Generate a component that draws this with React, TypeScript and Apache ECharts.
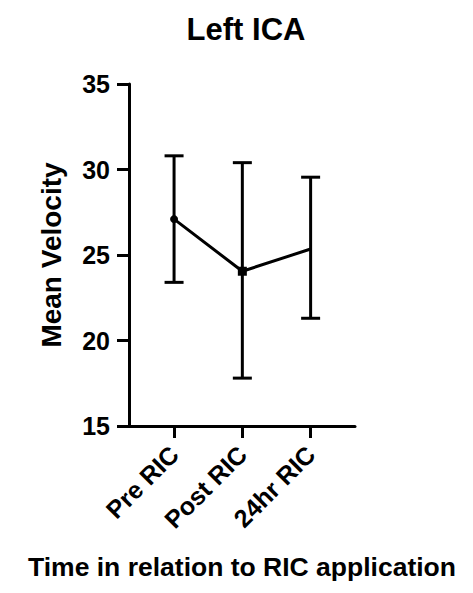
import React, { useEffect, useRef } from "react";
import * as echarts from "echarts";

// Mean velocity in the left ICA at three time points, with error bar ends
const categories = ["Pre RIC", "Post RIC", "24hr RIC"];
const meanVelocity = [27.1, 24.05, 25.35];
const errorUpper = [30.8, 30.4, 29.55];
const errorLower = [23.4, 17.8, 21.3];
const pointSymbols = ["circle", "rect", "none"];
const pointSizes = [8, 9, 0];

const FONT = "'Liberation Sans', Arial, sans-serif";

export default function App() {
  const ref = useRef<HTMLDivElement>(null);

  useEffect(() => {
    if (!ref.current) return;
    const chart = echarts.init(ref.current, null, { renderer: "svg" });

    const barData = categories.map((_, i) => [i, errorUpper[i], errorLower[i]]);
    const lineData = meanVelocity.map((v, i) => ({
      value: [i, v],
      symbol: pointSymbols[i],
      symbolSize: pointSizes[i],
    }));

    chart.setOption({
      animation: false,
      backgroundColor: "#fff",
      textStyle: { fontFamily: FONT, color: "#000" },
      title: {
        text: "Left ICA",
        left: 241,
        textAlign: "center",
        top: 9,
        textStyle: { fontFamily: FONT, fontWeight: "bold", fontSize: 31, color: "#000" },
      },
      grid: {
        left: 129,
        right: 118,
        top: 84,
        bottom: 167,
        outerBoundsMode: "none",
        containLabel: false,
      },
      xAxis: {
        type: "value",
        min: -0.66,
        max: 2.65,
        splitLine: { show: false },
        name: "Time in relation to RIC application",
        nameLocation: "middle",
        nameGap: 127,
        nameTextStyle: { fontFamily: FONT, fontWeight: "bold", fontSize: 26.5, color: "#000" },
        axisLine: { show: true, onZero: false, lineStyle: { color: "#000", width: 3 } },
        axisTick: {
          show: true,
          length: 12,
          customValues: [0, 1, 2],
          lineStyle: { color: "#000", width: 3 },
        },
        axisLabel: {
          customValues: [0, 1, 2],
          rotate: 45,
          margin: 24,
          fontFamily: FONT,
          fontWeight: "bold",
          fontSize: 25,
          color: "#000",
          formatter: (v: number) => categories[Math.round(v)] ?? "",
        },
      },
      yAxis: {
        type: "value",
        min: 15,
        max: 35,
        interval: 5,
        splitLine: { show: false },
        name: "Mean Velocity",
        nameLocation: "middle",
        nameRotate: 90,
        nameGap: 64,
        nameTextStyle: { fontFamily: FONT, fontWeight: "bold", fontSize: 28, color: "#000" },
        axisLine: { show: true, onZero: false, lineStyle: { color: "#000", width: 3 } },
        axisTick: { show: true, length: 12, lineStyle: { color: "#000", width: 3 } },
        axisLabel: {
          margin: 19,
          fontFamily: FONT,
          fontWeight: "bold",
          fontSize: 25,
          color: "#000",
        },
      },
      series: [
        {
          type: "custom",
          name: "error",
          data: barData,
          encode: { x: 0, y: [1, 2] },
          renderItem: (params: any, api: any) => {
            const x = api.value(0);
            const top = api.coord([x, api.value(1)]);
            const bot = api.coord([x, api.value(2)]);
            const hw = 9.5;
            const style = { stroke: "#000", lineWidth: 3, fill: "none" };
            return {
              type: "group",
              children: [
                { type: "line", shape: { x1: top[0], y1: top[1], x2: bot[0], y2: bot[1] }, style },
                { type: "line", shape: { x1: top[0] - hw, y1: top[1], x2: top[0] + hw, y2: top[1] }, style },
                { type: "line", shape: { x1: bot[0] - hw, y1: bot[1], x2: bot[0] + hw, y2: bot[1] }, style },
              ],
            };
          },
          z: 2,
        },
        {
          type: "line",
          name: "mean",
          data: lineData,
          lineStyle: { color: "#000", width: 3 },
          itemStyle: { color: "#000" },
          z: 3,
        },
      ],
    });

    return () => chart.dispose();
  }, []);

  return (
    <div
      ref={ref}
      style={{ position: "fixed", left: 0, top: 0, width: 473, height: 593 }}
    />
  );
}
